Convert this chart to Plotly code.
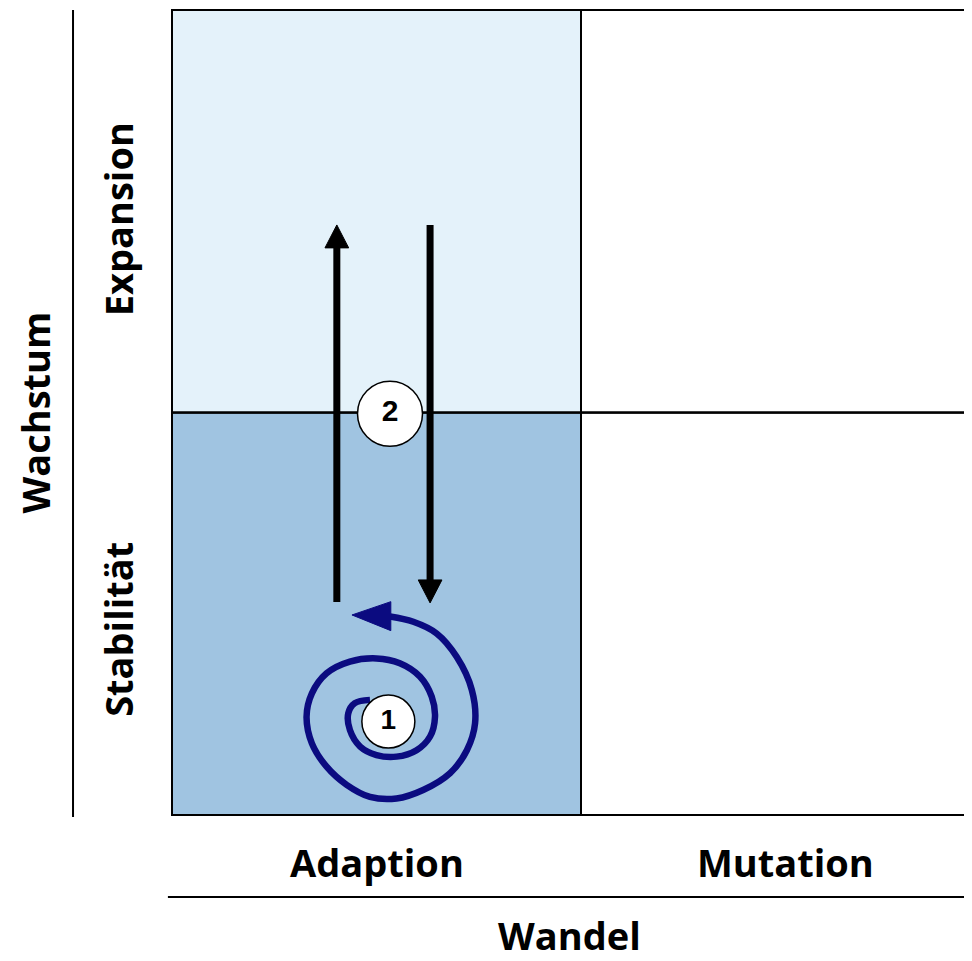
import plotly.graph_objects as go

# ---- data ----
x_categories = ["Adaption", "Mutation"]
y_categories = ["Stabilität", "Expansion"]
x_title = "Wandel"
y_title = "Wachstum"
cell_colors = {("Adaption", "Stabilität"): "#A0C4E1",
               ("Adaption", "Expansion"): "#E4F2FA",
               ("Mutation", "Stabilität"): "#FFFFFF",
               ("Mutation", "Expansion"): "#FFFFFF"}

# spiral path (cell units, inside -> outside)
spiral_x = [0.484, 0.447, 0.431, 0.435, 0.460, 0.500, 0.549, 0.598, 0.631, 0.643,
            0.635, 0.606, 0.557, 0.500, 0.435, 0.378, 0.342, 0.329, 0.342, 0.378,
            0.427, 0.484, 0.549, 0.614, 0.680, 0.721, 0.741, 0.733, 0.696, 0.647,
            0.590, 0.533]
spiral_y = [0.286, 0.278, 0.253, 0.211, 0.170, 0.149, 0.145, 0.161, 0.195, 0.244,
            0.294, 0.344, 0.377, 0.389, 0.381, 0.352, 0.302, 0.244, 0.178, 0.120,
            0.075, 0.045, 0.041, 0.062, 0.104, 0.161, 0.228, 0.311, 0.393, 0.451,
            0.480, 0.493]
spiral_head_x = [0.535, 0.440, 0.535]
spiral_head_y = [0.530, 0.497, 0.458]

# vertical arrows: (x, y_start, y_end)
arrow_up = (0.403, 0.529, 1.466)
arrow_down = (0.631, 1.466, 0.527)

# numbered markers
badge_labels = ["1", "2"]
badge_x = [0.529, 0.533]
badge_y = [0.232, 0.997]
badge_size = [53, 65]
badge_font = [28, 30]

fig = go.Figure()

# cells
for i, xc in enumerate(x_categories):
    for j, yc in enumerate(y_categories):
        fig.add_shape(type="rect", x0=i, x1=i + 1, y0=j, y1=j + 1,
                      fillcolor=cell_colors[(xc, yc)],
                      line=dict(color="black", width=2), layer="below")
# inner grid lines
fig.add_shape(type="line", x0=0, x1=2, y0=1, y1=1, line=dict(color="black", width=2), layer="below")
fig.add_shape(type="line", x0=1, x1=1, y0=0, y1=2, line=dict(color="black", width=2), layer="below")

# axis rule lines
fig.add_shape(type="line", x0=-0.242, x1=-0.242, y0=-0.005, y1=2.0, line=dict(color="black", width=2))
fig.add_shape(type="line", x0=-0.01, x1=2.0, y0=-0.204, y1=-0.204, line=dict(color="black", width=2))

# black arrows
head_len = 0.057
head_half = 0.029
for (ax, y0, y1) in [arrow_up, arrow_down]:
    d = 1 if y1 > y0 else -1
    base = y1 - d * head_len
    fig.add_trace(go.Scatter(x=[ax, ax], y=[y0, base], mode="lines",
                             line=dict(color="black", width=7), hoverinfo="skip"))
    fig.add_trace(go.Scatter(x=[ax - head_half, ax, ax + head_half, ax - head_half],
                             y=[base, y1, base, base], mode="lines", fill="toself",
                             fillcolor="black", line=dict(color="black", width=1),
                             hoverinfo="skip"))

# spiral
fig.add_trace(go.Scatter(x=spiral_x, y=spiral_y, mode="lines",
                         line=dict(color="#0B0B80", width=6.5, shape="spline"),
                         hoverinfo="skip"))
fig.add_trace(go.Scatter(x=spiral_head_x + [spiral_head_x[0]],
                         y=spiral_head_y + [spiral_head_y[0]], mode="lines",
                         fill="toself", fillcolor="#0B0B80",
                         line=dict(color="#0B0B80", width=1), hoverinfo="skip"))

# badges
for lbl, bx, by, bs, bf in zip(badge_labels, badge_x, badge_y, badge_size, badge_font):
    fig.add_trace(go.Scatter(x=[bx], y=[by], mode="markers+text",
                             text=[lbl], textposition="middle center",
                             textfont=dict(family="Liberation Sans", size=bf, color="black", weight="bold"),
                             marker=dict(size=bs, color="white", opacity=1,
                                         line=dict(color="black", width=1.5)),
                             hoverinfo="skip"))

label_font = dict(family="Open Sans", size=38, color="black", weight="bold")
for i, xc in enumerate(x_categories):
    fig.add_annotation(x=i + 0.5, y=-0.117, text=xc, showarrow=False, font=label_font)
fig.add_annotation(x=0.973, y=-0.298, text=x_title, showarrow=False, font=label_font)
y_label_pos = [0.46, 1.48]
for j, yc in enumerate(y_categories):
    fig.add_annotation(x=-0.132, y=y_label_pos[j], text=yc, showarrow=False,
                       textangle=-90, font=label_font)
fig.add_annotation(x=-0.335, y=1.0, text=y_title, showarrow=False, textangle=-90, font=label_font)

fig.update_layout(width=972, height=961, autosize=False,
                  margin=dict(l=0, r=0, t=0, b=0),
                  paper_bgcolor="white", plot_bgcolor="white",
                  showlegend=False,
                  xaxis=dict(range=[-0.40098, 1.97555], visible=False, fixedrange=True),
                  yaxis=dict(range=[-0.38261, 2.00497], visible=False, fixedrange=True))

fig.write_html("out.html")
